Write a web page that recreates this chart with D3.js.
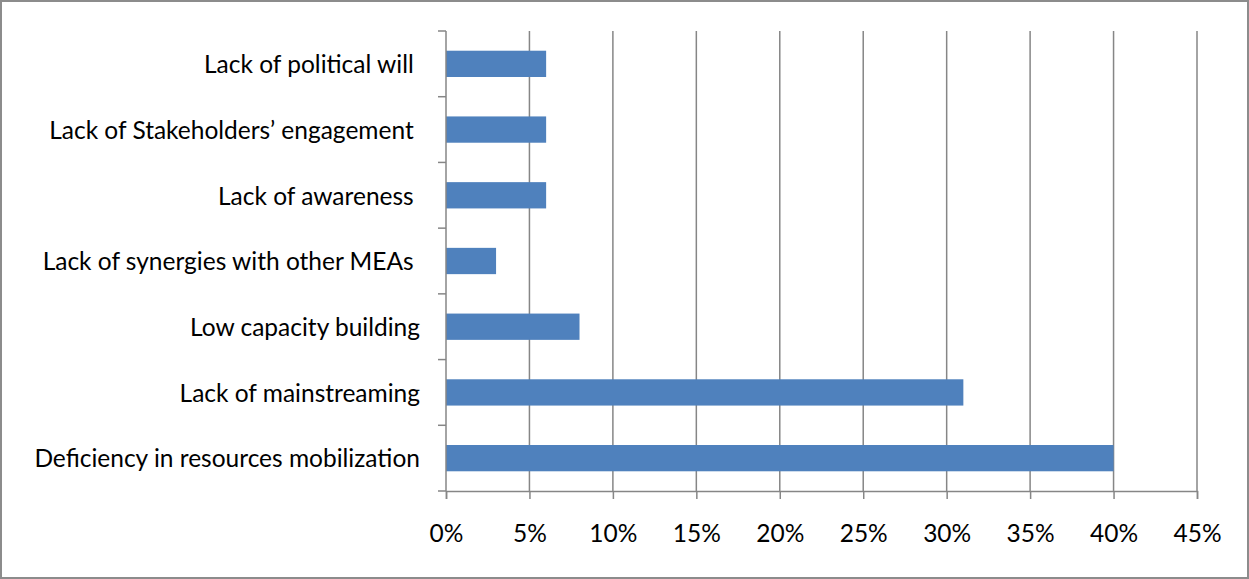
<!DOCTYPE html>
<html>
<head>
<meta charset="utf-8">
<script src="https://cdn.jsdelivr.net/npm/d3@7"></script>
<style>
  body { margin: 0; background: #fff; }
  text { font-family: Lato, "Open Sans", sans-serif; }
</style>
</head>
<body>
<div id="chart"></div>
<script>
// chart data, bottom to top as in the picture
const categories = [
  "Deficiency in resources mobilization",
  "Lack of mainstreaming",
  "Low capacity building",
  "Lack of synergies with other MEAs ",
  "Lack of awareness ",
  "Lack of Stakeholders\u2019 engagement ",
  "Lack of political will "
];
const values = [40, 31, 8, 3, 6, 6, 6];
const xTicks = [0, 5, 10, 15, 20, 25, 30, 35, 40, 45];

const W = 1249, H = 579;
let margin = {top: 31, right: 52, bottom: 88, left: 446},
    width = W - margin.left - margin.right,
    height = H - margin.top - margin.bottom;

const svg = d3.select("#chart")
  .append("svg")
  .attr("width", W)
  .attr("height", H);

// outer frame
svg.append("rect")
  .attr("x", 1).attr("y", 1)
  .attr("width", W - 2).attr("height", H - 2)
  .attr("fill", "none")
  .attr("stroke", "#8c8c8c")
  .attr("stroke-width", 2);

const g = svg.append("g")
  .attr("transform", `translate(${margin.left},${margin.top})`);

const x = d3.scaleLinear().domain([0, 45]).range([0, width]);
const y = d3.scaleBand()
  .domain(categories.slice().reverse())
  .range([0, height])
  .paddingInner(0.6)
  .paddingOuter(0.3);

// vertical grid lines
g.selectAll(".grid")
  .data(xTicks.slice(1))
  .join("line")
  .attr("x1", d => x(d)).attr("x2", d => x(d))
  .attr("y1", 0).attr("y2", height)
  .attr("stroke", "#868686")
  .attr("stroke-width", 1.5);

// bars
g.selectAll(".bar")
  .data(categories)
  .join("rect")
  .attr("x", 0)
  .attr("y", d => y(d))
  .attr("width", (d, i) => x(values[i]))
  .attr("height", y.bandwidth())
  .attr("fill", "#4F81BD");

// x axis
const xAxis = g.append("g")
  .attr("transform", `translate(0,${height})`)
  .call(d3.axisBottom(x).tickValues(xTicks).tickSize(8).tickPadding(26)
    .tickFormat(d => d + "%"));
xAxis.select(".domain").attr("stroke", "#868686").attr("stroke-width", 1.5);
xAxis.selectAll(".tick line").attr("stroke", "#868686").attr("stroke-width", 1.5);
xAxis.selectAll("text").attr("font-size", 24.5).attr("fill", "#000")
  .style("font-family", "Lato, sans-serif");

// y axis: Excel style ticks on band boundaries
const step = height / categories.length;
g.append("line")
  .attr("x1", 0).attr("x2", 0).attr("y1", 0).attr("y2", height)
  .attr("stroke", "#868686").attr("stroke-width", 1.5);
g.selectAll(".ytick")
  .data(d3.range(categories.length + 1))
  .join("line")
  .attr("x1", -8).attr("x2", 0)
  .attr("y1", d => d * step).attr("y2", d => d * step)
  .attr("stroke", "#868686").attr("stroke-width", 1.5);

// category labels
g.selectAll(".ylabel")
  .data(categories)
  .join("text")
  .attr("x", -26)
  .attr("y", d => y(d) + y.bandwidth() / 2)
  .attr("dy", "0.38em")
  .attr("text-anchor", "end")
  .attr("font-size", 24.5)
  .style("white-space", "pre")
  .text(d => d);
</script>
</body>
</html>
